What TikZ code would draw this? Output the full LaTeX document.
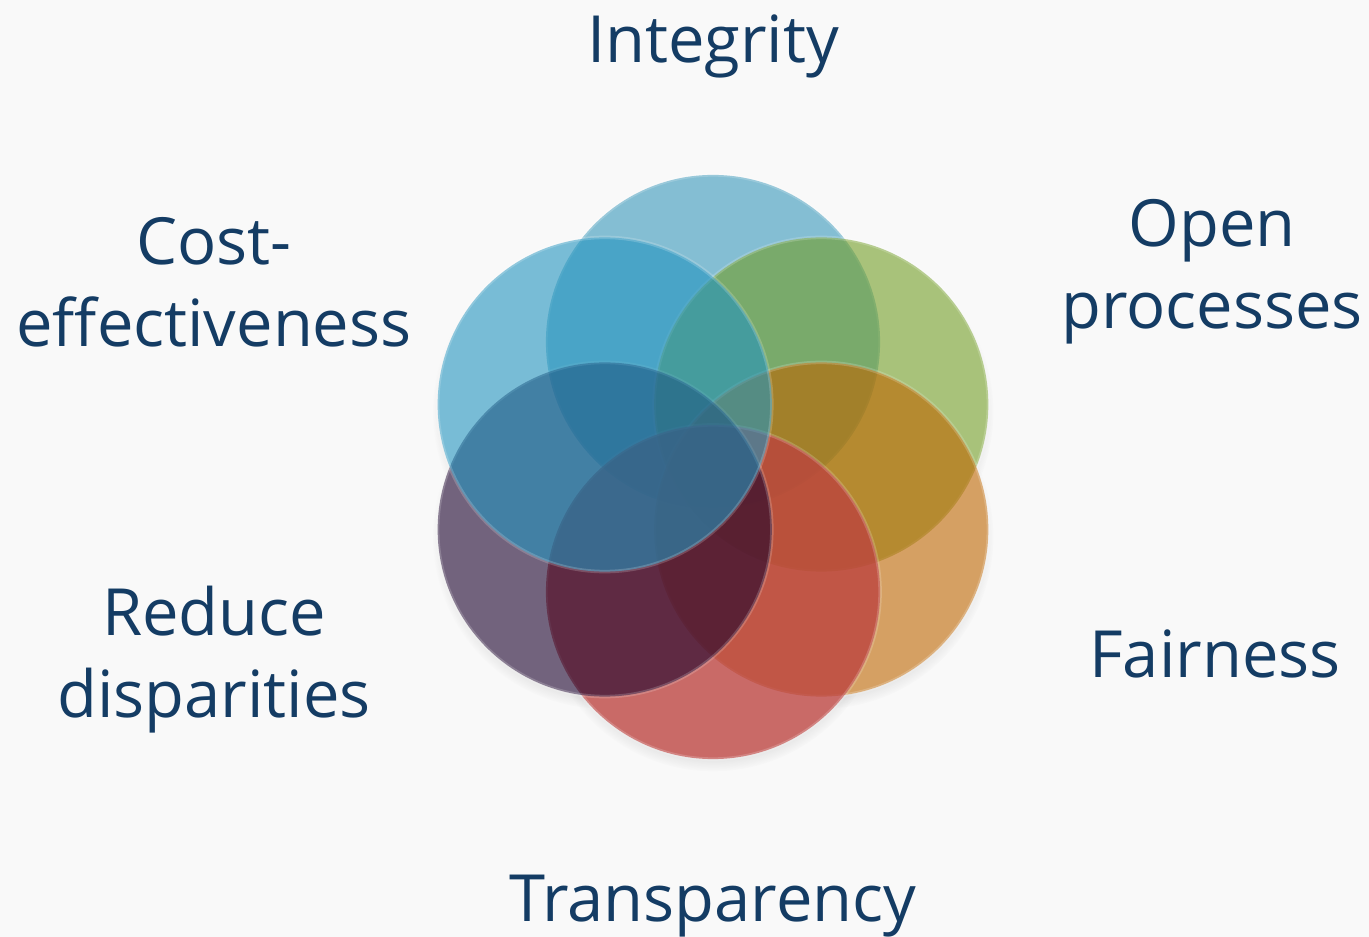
\documentclass[tikz,border=0pt]{standalone}
\usepackage{fontspec}
\setmainfont{Open Sans}
\usetikzlibrary{calc,shadows}

\definecolor{bgC}{RGB}{249,249,249}
\definecolor{txtC}{RGB}{20,60,100}
\definecolor{integC}{RGB}{55,151,186}
\definecolor{openC}{RGB}{115,158,38}
\definecolor{fairC}{RGB}{190,101,0}
\definecolor{transpC}{RGB}{188,66,63}
\definecolor{reduceC}{RGB}{25,0,43}
\definecolor{costC}{RGB}{35,148,191}

\tikzset{
    petal/.style={circle, minimum size=3.34cm, inner sep=0pt, fill opacity=.6,
        draw=white, draw opacity=.18, line width=1pt},
    lbl/.style={text=txtC, align=center, font=\fontsize{18.5}{23.6}\selectfont},
}

\begin{document}
\begin{tikzpicture}[x=0.01cm, y=-0.01cm]
    \useasboundingbox (0,0) rectangle (1369,937);
    \fill[bgC] (0,0) rectangle (1369,937);
    \coordinate (hub) at (713,467);

    % shadows first, then an opaque backing so they only show round the outside
    \foreach \ang in {-90,-30,30,90,150,210}
        \path[circular drop shadow={shadow xshift=0pt, shadow yshift=-2pt, shadow scale=1.03, opacity=.3}]
            ($(hub)+(\ang:125)$) circle[radius=1.67cm];
    \foreach \ang in {-90,-30,30,90,150,210}
        \fill[bgC] ($(hub)+(\ang:125)$) circle[radius=1.67cm];

    \foreach \ang/\col/\op/\nm in {-90/integC/.6/integ, -30/openC/.6/open, 30/fairC/.6/fair,
            90/transpC/.78/transp, 150/reduceC/.6/reduce, 210/costC/.6/cost}
        \node[petal, fill=\col, fill opacity=\op] (\nm) at ($(hub)+(\ang:125)$) {};

    % base of a two-line label sits on its last line
    \node[lbl, anchor=base] (integrity) at (713,63) {Integrity};
    \node[lbl, anchor=base] (openproc) at (1212,329) {Open\\processes};
    \node[lbl, anchor=base] (fairness) at (1215,678) {Fairness};
    \node[lbl, anchor=base] (transparency) at (713,922) {Transparency};
    \node[lbl, anchor=base] (reducedisp) at (214,718) {Reduce\\disparities};
    \node[lbl, anchor=base] (costeff) at (214,347) {Cost-\\effectiveness};
\end{tikzpicture}
\end{document}
